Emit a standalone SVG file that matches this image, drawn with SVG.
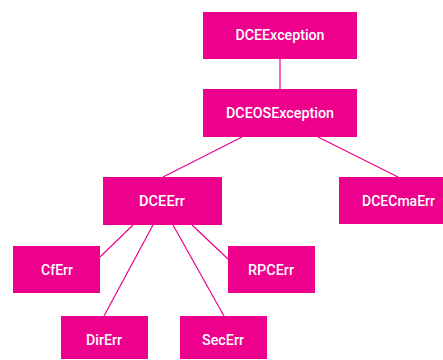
<svg xmlns="http://www.w3.org/2000/svg" width="443" height="360" viewBox="0 0 443 360">
  <style>
    .box { fill: #EC008C; }
    .lbl { fill: #ffffff; font-family: Roboto, "Liberation Sans", sans-serif; font-size: 15.5px; font-weight: 500; text-anchor: middle; }
    .edge { stroke: #EC008C; stroke-width: 1.2; fill: none; }
  </style>
  <rect width="443" height="360" fill="#ffffff"/>
  <g id="connectors">
    <line class="edge" x1="280" y1="59" x2="280" y2="89"/>
    <line class="edge" x1="242" y1="137" x2="163" y2="177"/>
    <line class="edge" x1="318" y1="137" x2="398" y2="177"/>
    <line class="edge" x1="133" y1="225" x2="100" y2="257"/>
    <line class="edge" x1="153" y1="225" x2="104" y2="316"/>
    <line class="edge" x1="173" y1="225" x2="224" y2="316"/>
    <line class="edge" x1="192" y1="225" x2="228" y2="259"/>
  </g>
  <g id="DCEException">
    <rect class="box" x="203" y="12" width="154" height="47"/>
    <text class="lbl" x="280" y="39.5" textLength="89" lengthAdjust="spacingAndGlyphs">DCEException</text>
  </g>
  <g id="DCEOSException">
    <rect class="box" x="203" y="89" width="154" height="48"/>
    <text class="lbl" x="280" y="117.5" textLength="108" lengthAdjust="spacingAndGlyphs">DCEOSException</text>
  </g>
  <g id="DCEErr">
    <rect class="box" x="103" y="177" width="119" height="48"/>
    <text class="lbl" x="162" y="205.5" textLength="46" lengthAdjust="spacingAndGlyphs">DCEErr</text>
  </g>
  <g id="DCECmaErr">
    <rect class="box" x="339" y="177" width="119" height="47"/>
    <text class="lbl" x="398.5" y="205.5" textLength="73" lengthAdjust="spacingAndGlyphs">DCECmaErr</text>
  </g>
  <g id="CfErr">
    <rect class="box" x="13" y="246" width="87" height="47"/>
    <text class="lbl" x="57" y="274.5" textLength="32" lengthAdjust="spacingAndGlyphs">CfErr</text>
  </g>
  <g id="RPCErr">
    <rect class="box" x="228" y="246" width="87" height="47"/>
    <text class="lbl" x="271" y="274.5" textLength="46" lengthAdjust="spacingAndGlyphs">RPCErr</text>
  </g>
  <g id="DirErr">
    <rect class="box" x="61" y="316" width="87" height="43"/>
    <text class="lbl" x="104" y="345" textLength="36" lengthAdjust="spacingAndGlyphs">DirErr</text>
  </g>
  <g id="SecErr">
    <rect class="box" x="180" y="316" width="87" height="43"/>
    <text class="lbl" x="223" y="345" textLength="42" lengthAdjust="spacingAndGlyphs">SecErr</text>
  </g>
</svg>
